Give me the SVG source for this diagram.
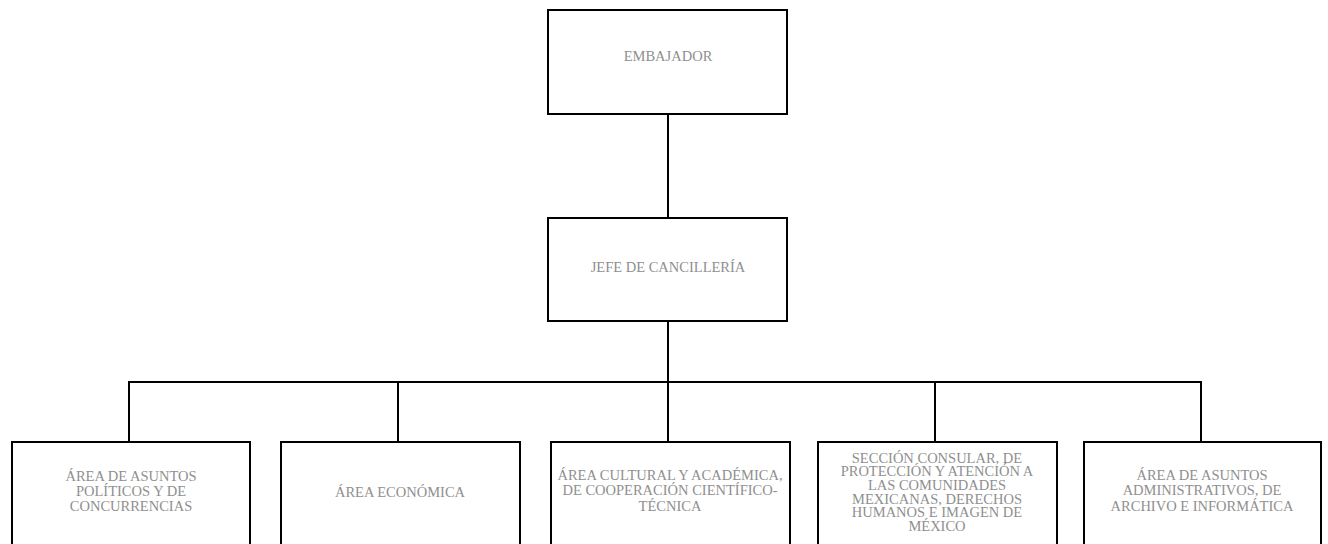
<svg xmlns="http://www.w3.org/2000/svg" width="1328" height="544" viewBox="0 0 1328 544">
<style>
.box{fill:#fff;stroke:#000;stroke-width:2}
.lbl{font-family:"Liberation Serif","Times New Roman",serif;font-size:14.5px;fill:#8f8f8f;text-anchor:middle}
.conn{fill:none;stroke:#000;stroke-width:2}
</style>
<rect width="1328" height="544" fill="#fff"/>
<g id="connectors">
<line class="conn" x1="668" y1="114" x2="668" y2="218"/>
<line class="conn" x1="668" y1="321" x2="668" y2="382"/>
<line class="conn" x1="128" y1="382" x2="1202" y2="382"/>
<line class="conn" x1="129" y1="382" x2="129" y2="442"/>
<line class="conn" x1="398" y1="382" x2="398" y2="442"/>
<line class="conn" x1="668" y1="382" x2="668" y2="442"/>
<line class="conn" x1="935" y1="382" x2="935" y2="442"/>
<line class="conn" x1="1201" y1="382" x2="1201" y2="442"/>
</g>
<g id="embajador">
<rect class="box" x="548" y="10" width="239" height="104"/>
<text class="lbl" x="668" y="61">EMBAJADOR</text>
</g>
<g id="jefe">
<rect class="box" x="548" y="218" width="239" height="103"/>
<text class="lbl" x="668" y="272">JEFE DE CANCILLERÍA</text>
</g>
<g id="politicos">
<rect class="box" x="12" y="442" width="238" height="106"/>
<text class="lbl" x="131" y="481">ÁREA DE ASUNTOS</text>
<text class="lbl" x="131" y="496">POLÍTICOS Y DE</text>
<text class="lbl" x="131" y="511">CONCURRENCIAS</text>
</g>
<g id="economica">
<rect class="box" x="281" y="442" width="239" height="106"/>
<text class="lbl" x="400" y="497">ÁREA ECONÓMICA</text>
</g>
<g id="cultural">
<rect class="box" x="551" y="442" width="239" height="106"/>
<text class="lbl" x="670" y="480">ÁREA CULTURAL Y ACADÉMICA,</text>
<text class="lbl" x="670" y="495">DE COOPERACIÓN CIENTÍFICO-</text>
<text class="lbl" x="670" y="511">TÉCNICA</text>
</g>
<g id="consular">
<rect class="box" x="818" y="442" width="239" height="106"/>
<text class="lbl" x="937" y="462.5">SECCIÓN CONSULAR, DE</text>
<text class="lbl" x="937" y="476.2">PROTECCIÓN Y ATENCIÓN A</text>
<text class="lbl" x="937" y="489.9">LAS COMUNIDADES</text>
<text class="lbl" x="937" y="503.6">MEXICANAS, DERECHOS</text>
<text class="lbl" x="937" y="517.3">HUMANOS E IMAGEN DE</text>
<text class="lbl" x="937" y="531">MÉXICO</text>
</g>
<g id="administrativos">
<rect class="box" x="1084" y="442" width="237" height="106"/>
<text class="lbl" x="1202" y="480">ÁREA DE ASUNTOS</text>
<text class="lbl" x="1202" y="495">ADMINISTRATIVOS, DE</text>
<text class="lbl" x="1202" y="511">ARCHIVO E INFORMÁTICA</text>
</g>
</svg>
